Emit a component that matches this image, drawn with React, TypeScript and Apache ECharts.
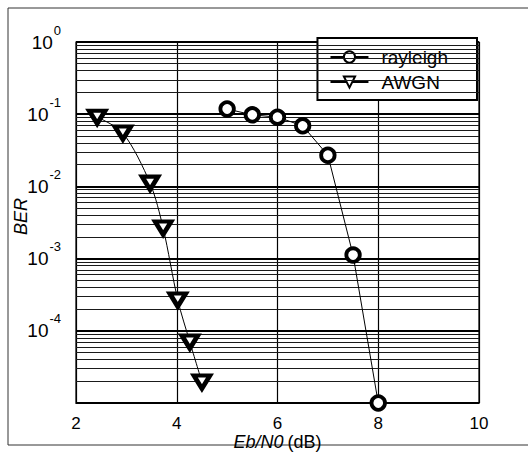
import React, { useEffect, useRef } from "react";
import * as echarts from "echarts";

const rayleighX = [5.0, 5.5, 6.0, 6.5, 7.0, 7.5, 8.0];
const rayleighY = [0.118, 0.098, 0.091, 0.069, 0.027, 0.00112, 0.00001];
const awgnX = [2.42, 2.93, 3.47, 3.73, 4.02, 4.26, 4.5];
const awgnY = [0.091, 0.055, 0.0111, 0.00265, 0.000267, 0.00007, 0.0000195];
const xTicks = [2, 4, 6, 8, 10];
const decades = [-5, -4, -3, -2, -1, 0];
const minorMantissas = [2, 3, 4, 5, 6, 7, 8, 9];

const FONT = "Liberation Sans, Arial, Helvetica, sans-serif";

export default function App() {
  const ref = useRef<HTMLDivElement>(null);
  useEffect(() => {
    if (!ref.current) return;
    const chart = echarts.init(ref.current, null, { renderer: "svg" });
    const minorLines: any[] = [];
    decades.slice(0, -1).forEach((d) => {
      minorMantissas.forEach((m) => {
        const v = m * Math.pow(10, d);
        minorLines.push([{ coord: [xTicks[0], v] }, { coord: [xTicks[xTicks.length - 1], v] }]);
      });
    });
    chart.setOption({
      animation: false,
      backgroundColor: "#fff",
      textStyle: { fontFamily: FONT, color: "#000" },
      graphic: [
        {
          type: "rect",
          shape: { x: 8, y: 8, width: 540, height: 437 },
          style: { fill: "none", stroke: "#333", lineWidth: 1 },
          silent: true,
        },
      ],
      grid: {
        left: 76,
        right: 49,
        top: 42,
        bottom: 52,
        outerBoundsMode: "none",
        containLabel: false,
        show: true,
        borderColor: "#000",
        borderWidth: 1.2,
      },
      legend: {
        data: ["rayleigh", "AWGN"],
        orient: "vertical",
        right: 51,
        top: 38,
        backgroundColor: "#fff",
        borderColor: "#000",
        borderWidth: 2,
        borderRadius: 0,
        padding: [9, 14, 8, 12],
        itemGap: 5,
        itemWidth: 38,
        itemHeight: 14,
        textStyle: { fontSize: 19, lineHeight: 20, fontFamily: FONT, color: "#000", padding: [0, 15, 0, 8] },
      },
      xAxis: {
        type: "value",
        min: 2,
        max: 10,
        interval: 2,
        axisLine: { show: true, lineStyle: { color: "#000" } },
        axisTick: { show: false },
        axisLabel: { fontSize: 17, lineHeight: 16, color: "#000", margin: 12, fontFamily: FONT,
          formatter: (v: number) => (xTicks.includes(v) ? String(v) : "") },
        splitLine: { show: true, lineStyle: { color: "#000", width: 1.2 } },
        name: "{i|Eb/N0}{n|(dB)}",
        nameLocation: "middle",
        nameGap: 30,
        nameMoveOverlap: false,
        nameTextStyle: {
          lineHeight: 18,
          rich: {
            i: { fontSize: 18, lineHeight: 18, fontStyle: "italic", fontFamily: FONT, color: "#000", padding: [0, 4, 0, 0] },
            n: { fontSize: 18, lineHeight: 18, fontFamily: FONT, color: "#000" },
          },
        },
      },
      yAxis: {
        type: "log",
        logBase: 10,
        min: 1e-5,
        max: 1,
        axisLine: { show: true, lineStyle: { color: "#000" } },
        axisTick: { show: false },
        minorTick: { show: false },
        axisLabel: {
          margin: 15,
          formatter: (v: number) => {
            const e = Math.round(Math.log10(v));
            if (e === -5) return "";
            return `{b|10}{s|${e}}`;
          },
          rich: {
            b: { fontSize: 19, fontFamily: FONT, color: "#000" },
            s: { fontSize: 13, fontFamily: FONT, color: "#000", padding: [0, 0, 24, 1] },
          },
        },
        splitLine: { show: true, lineStyle: { color: "#000", width: 2 } },
        name: "BER",
        nameLocation: "middle",
        nameGap: 46,
        nameMoveOverlap: false,
        nameTextStyle: { fontSize: 18, fontStyle: "italic", fontFamily: FONT, color: "#000", padding: [0, 0, 0, 12] },
      },
      series: [
        {
          name: "grid-minor",
          type: "line",
          data: [],
          silent: true,
          markLine: {
            silent: true,
            symbol: ["none", "none"],
            label: { show: false },
            lineStyle: { color: "#1a1a1a", width: 1.2, type: "solid" },
            data: minorLines,
          },
        },
        {
          name: "rayleigh",
          type: "line",
          data: rayleighX.map((x, i) => [x, rayleighY[i]]),
          symbol: "circle",
          symbolSize: 13.5,
          clip: false,
          itemStyle: { color: "#fff", borderColor: "#000", borderWidth: 3.8 },
          lineStyle: { color: "#000", width: 1 },
          z: 5,
        },
        {
          name: "AWGN",
          type: "line",
          data: awgnX.map((x, i) => [x, awgnY[i]]),
          symbol: "triangle",
          symbolRotate: 180,
          symbolSize: [16, 13],
          clip: false,
          smooth: 0.3,
          itemStyle: { color: "#fff", borderColor: "#000", borderWidth: 4.5 },
          lineStyle: { color: "#000", width: 1 },
          z: 5,
        },
      ],
    });
    return () => chart.dispose();
  }, []);
  return (
    <div
      ref={ref}
      style={{ position: "fixed", left: 0, top: 0, width: 528, height: 455 }}
    />
  );
}
